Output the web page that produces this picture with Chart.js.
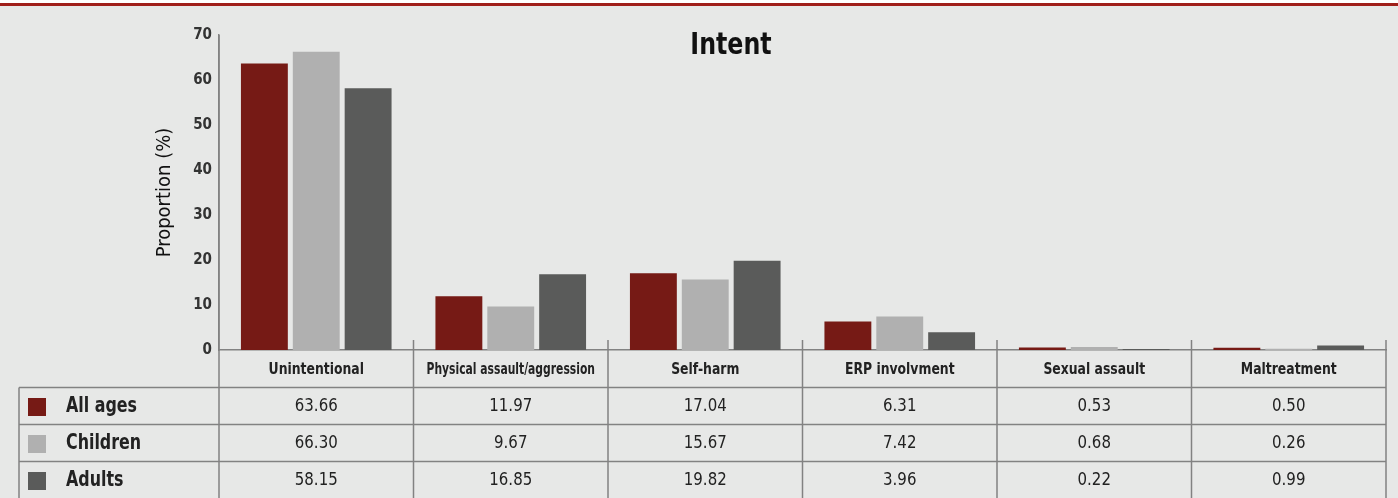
<!DOCTYPE html>
<html>
<head>
<meta charset="utf-8">
<script src="https://cdn.jsdelivr.net/npm/chart.js@4.4.1/dist/chart.umd.min.js"></script>
<style>
  html, body { margin: 0; padding: 0; background: #e7e8e7; }
  #wrap { width: 1398px; height: 498px; position: relative; }
</style>
</head>
<body>
<div id="wrap"><canvas id="intentChart" width="1398" height="498"></canvas></div>
<script>
const categories = ["Unintentional", "Physical assault/aggression", "Self-harm", "ERP involvment", "Sexual assault", "Maltreatment"];
const seriesNames = ["All ages", "Children", "Adults"];
const allAges = [63.66, 11.97, 17.04, 6.31, 0.53, 0.50];
const children = [66.30, 9.67, 15.67, 7.42, 0.68, 0.26];
const adults = [58.15, 16.85, 19.82, 3.96, 0.22, 0.99];
const yTicks = [0, 10, 20, 30, 40, 50, 60, 70];

const colors = ["#761a15", "#b0b0b0", "#5a5b5a"];
const lineColor = "#828282";
const FONT = "'DejaVu Sans Condensed', 'Liberation Sans Narrow', sans-serif";

// squeeze text horizontally so it looks like the condensed face of the original
function narrowText(ctx, text, x, y, squeeze, maxW) {
    let w = ctx.measureText(text).width * squeeze;
    if (maxW && w > maxW) w = maxW;
    ctx.fillText(text, x, y, w);
}

// background, top rule, title, table under the plot
const tablePlugin = {
    id: "tablePlugin",
    beforeDraw(chart) {
        const ctx = chart.ctx;
        ctx.save();
        ctx.fillStyle = "#e7e8e7";
        ctx.fillRect(0, 0, chart.width, chart.height);
        ctx.fillStyle = "#ffffff";
        ctx.fillRect(0, 0, chart.width, 3);
        ctx.fillStyle = "#a01f1a";
        ctx.fillRect(0, 3, chart.width, 3);
        ctx.restore();
    },
    afterDraw(chart) {
        const ctx = chart.ctx;
        const area = chart.chartArea;
        const x = chart.scales.x;
        const catW = (area.right - area.left) / categories.length;
        const rowH = 37;
        const headTop = area.bottom;
        const rowTops = [387.5, 424.5, 461.5];
        const tableLeft = 19;

        ctx.save();
        ctx.strokeStyle = lineColor;
        ctx.lineWidth = 1.5;

        // vertical lines
        for (let i = 0; i <= categories.length; i++) {
            const xx = area.left + i * catW;
            ctx.beginPath();
            ctx.moveTo(xx, i === 0 ? area.top : headTop - 10);
            ctx.lineTo(xx, chart.height);
            ctx.stroke();
        }
        ctx.beginPath();
        ctx.moveTo(tableLeft, rowTops[0]);
        ctx.lineTo(tableLeft, chart.height);
        ctx.stroke();

        // horizontal lines
        rowTops.forEach(t => {
            ctx.beginPath();
            ctx.moveTo(tableLeft, t);
            ctx.lineTo(area.right, t);
            ctx.stroke();
        });

        // title
        ctx.fillStyle = "#111";
        ctx.textAlign = "center";
        ctx.textBaseline = "middle";
        ctx.font = "bold 31px " + FONT;
        narrowText(ctx, "Intent", 731, 46, 0.85);

        // header labels
        ctx.font = "bold 15px " + FONT;
        ctx.fillStyle = "#222";
        categories.forEach((c, i) => {
            narrowText(ctx, c, x.getPixelForValue(i), (headTop + rowTops[0]) / 2 + 1, 0.92, catW - 26);
        });

        // rows
        const rows = [allAges, children, adults];
        rows.forEach((vals, r) => {
            const cy = rowTops[r] + rowH / 2 + 1;
            ctx.fillStyle = colors[r];
            ctx.fillRect(28, cy - 9, 18, 18);
            ctx.fillStyle = "#222";
            ctx.textAlign = "left";
            ctx.font = "bold 21px " + FONT;
            narrowText(ctx, seriesNames[r], 66, cy, 0.84);
            ctx.textAlign = "center";
            ctx.font = "17px " + FONT;
            vals.forEach((v, i) => {
                narrowText(ctx, v.toFixed(2), x.getPixelForValue(i), cy, 0.98);
            });
        });
        ctx.restore();
    }
};

new Chart(document.getElementById("intentChart"), {
    type: "bar",
    data: {
        labels: categories,
        datasets: [
            { label: seriesNames[0], data: allAges, backgroundColor: colors[0] },
            { label: seriesNames[1], data: children, backgroundColor: colors[1] },
            { label: seriesNames[2], data: adults, backgroundColor: colors[2] }
        ]
    },
    options: {
        responsive: false,
        animation: false,
        events: [],
        layout: { padding: { left: 150, right: 12, top: 35, bottom: 0 } },
        datasets: {
            bar: { categoryPercentage: 0.8, barPercentage: 0.904 }
        },
        plugins: {
            legend: { display: false },
            title: { display: false },
            tooltip: { enabled: false }
        },
        scales: {
            x: {
                grid: { display: false },
                border: { display: true, color: lineColor, width: 1.5 },
                ticks: { display: false },
                afterFit(scale) { scale.height = 148; }
            },
            y: {
                min: 0,
                max: 70,
                afterBuildTicks(scale) { scale.ticks = yTicks.map(v => ({ value: v })); },
                grid: { display: false, drawTicks: false },
                border: { display: true, color: lineColor, width: 1.5 },
                ticks: {
                    padding: 7,
                    color: "#333",
                    font: { family: FONT, size: 15, weight: "bold" }
                },
                title: {
                    display: true,
                    text: "Proportion (%)",
                    color: "#111",
                    padding: { top: 3, bottom: 0 },
                    font: { family: FONT, size: 20, weight: "normal" }
                },
                afterFit(scale) { scale.width = 69; }
            }
        }
    },
    plugins: [tablePlugin]
});
</script>
</body>
</html>
